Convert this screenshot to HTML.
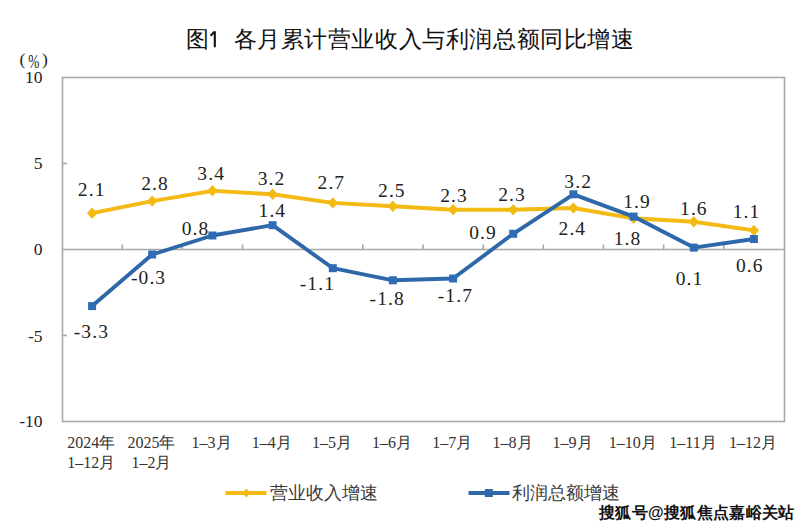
<!DOCTYPE html>
<html><head><meta charset="utf-8"><style>
html,body{margin:0;padding:0;background:#fff;width:811px;height:529px;overflow:hidden}
svg{display:block}
.t{font-family:"Liberation Sans",sans-serif}
.s{font-family:"Liberation Serif",serif}
</style></head><body>
<svg width="811" height="529" viewBox="0 0 811 529">
<rect width="811" height="529" fill="#fff"/>

<text class="t" x="186" y="47" font-size="23" fill="#111">图</text>
<path d="M214.8 31.2V47.2M214.6 31.6L210.6 35.8" stroke="#111" stroke-width="2.1" fill="none"/>
<text class="t" x="233.5" y="47" font-size="23" letter-spacing="0.6" fill="#111">各月累计营业收入与利润总额同比增速</text>
<text class="s" font-size="17.5" fill="#222"><tspan x="19.5" y="65">(</tspan><tspan x="42" y="65">)</tspan></text>
<text class="s" font-size="18" fill="#222" transform="translate(28.3,67.5) scale(0.74,1)">%</text>
<rect x="62.5" y="77.5" width="722" height="344" fill="none" stroke="#A8A8A8" stroke-width="1.6"/>
<line x1="62" y1="249.5" x2="784" y2="249.5" stroke="#A8A8A8" stroke-width="1.6"/>
<line x1="122.2" y1="244.5" x2="122.2" y2="249.5" stroke="#A8A8A8" stroke-width="1.6"/>
<line x1="182.3" y1="244.5" x2="182.3" y2="249.5" stroke="#A8A8A8" stroke-width="1.6"/>
<line x1="242.5" y1="244.5" x2="242.5" y2="249.5" stroke="#A8A8A8" stroke-width="1.6"/>
<line x1="302.7" y1="244.5" x2="302.7" y2="249.5" stroke="#A8A8A8" stroke-width="1.6"/>
<line x1="362.8" y1="244.5" x2="362.8" y2="249.5" stroke="#A8A8A8" stroke-width="1.6"/>
<line x1="423.0" y1="244.5" x2="423.0" y2="249.5" stroke="#A8A8A8" stroke-width="1.6"/>
<line x1="483.2" y1="244.5" x2="483.2" y2="249.5" stroke="#A8A8A8" stroke-width="1.6"/>
<line x1="543.3" y1="244.5" x2="543.3" y2="249.5" stroke="#A8A8A8" stroke-width="1.6"/>
<line x1="603.5" y1="244.5" x2="603.5" y2="249.5" stroke="#A8A8A8" stroke-width="1.6"/>
<line x1="663.7" y1="244.5" x2="663.7" y2="249.5" stroke="#A8A8A8" stroke-width="1.6"/>
<line x1="723.8" y1="244.5" x2="723.8" y2="249.5" stroke="#A8A8A8" stroke-width="1.6"/>
<line x1="62" y1="163.5" x2="67" y2="163.5" stroke="#A8A8A8" stroke-width="1.6"/>
<line x1="62" y1="335.5" x2="67" y2="335.5" stroke="#A8A8A8" stroke-width="1.6"/>
<text class="s" x="42.5" y="83.4" font-size="17.5" fill="#222" text-anchor="end">10</text>
<text class="s" x="42.5" y="169.0" font-size="17.5" fill="#222" text-anchor="end">5</text>
<text class="s" x="42.5" y="255.3" font-size="17.5" fill="#222" text-anchor="end">0</text>
<text class="s" x="42.5" y="341.5" font-size="17.5" fill="#222" text-anchor="end">-5</text>
<text class="s" x="42.5" y="427.3" font-size="17.5" fill="#222" text-anchor="end">-10</text>
<polyline points="92.1,213.2 152.2,201.1 212.4,190.8 272.6,194.3 332.8,202.9 392.9,206.3 453.1,209.7 513.2,209.7 573.4,208.0 633.6,218.3 693.8,221.8 753.9,230.4" fill="none" stroke="#F2BA12" stroke-width="3.9" stroke-linejoin="round"/>
<path d="M92.1 207.5L97.3 213.2L92.1 218.9L86.9 213.2Z" fill="#F2BA12"/>
<path d="M152.2 195.4L157.4 201.1L152.2 206.8L147.1 201.1Z" fill="#F2BA12"/>
<path d="M212.4 185.1L217.6 190.8L212.4 196.5L207.2 190.8Z" fill="#F2BA12"/>
<path d="M272.6 188.6L277.8 194.3L272.6 200.0L267.4 194.3Z" fill="#F2BA12"/>
<path d="M332.8 197.2L337.9 202.9L332.8 208.6L327.6 202.9Z" fill="#F2BA12"/>
<path d="M392.9 200.6L398.1 206.3L392.9 212.0L387.7 206.3Z" fill="#F2BA12"/>
<path d="M453.1 204.0L458.3 209.7L453.1 215.4L447.9 209.7Z" fill="#F2BA12"/>
<path d="M513.2 204.0L518.5 209.7L513.2 215.4L508.1 209.7Z" fill="#F2BA12"/>
<path d="M573.4 202.3L578.6 208.0L573.4 213.7L568.2 208.0Z" fill="#F2BA12"/>
<path d="M633.6 212.6L638.8 218.3L633.6 224.0L628.4 218.3Z" fill="#F2BA12"/>
<path d="M693.8 216.1L699.0 221.8L693.8 227.5L688.5 221.8Z" fill="#F2BA12"/>
<path d="M753.9 224.7L759.1 230.4L753.9 236.1L748.7 230.4Z" fill="#F2BA12"/>
<polyline points="92.1,306.1 152.2,254.5 212.4,235.5 272.6,225.2 332.8,268.2 392.9,280.3 453.1,278.5 513.2,233.8 573.4,194.3 633.6,216.6 693.8,247.6 753.9,239.0" fill="none" stroke="#2E68A8" stroke-width="3.9" stroke-linejoin="round"/>
<rect x="88.1" y="302.1" width="8" height="8" fill="#2F6CB6"/>
<rect x="148.2" y="250.5" width="8" height="8" fill="#2F6CB6"/>
<rect x="208.4" y="231.5" width="8" height="8" fill="#2F6CB6"/>
<rect x="268.6" y="221.2" width="8" height="8" fill="#2F6CB6"/>
<rect x="328.8" y="264.2" width="8" height="8" fill="#2F6CB6"/>
<rect x="388.9" y="276.3" width="8" height="8" fill="#2F6CB6"/>
<rect x="449.1" y="274.5" width="8" height="8" fill="#2F6CB6"/>
<rect x="509.2" y="229.8" width="8" height="8" fill="#2F6CB6"/>
<rect x="569.4" y="190.3" width="8" height="8" fill="#2F6CB6"/>
<rect x="629.6" y="212.6" width="8" height="8" fill="#2F6CB6"/>
<rect x="689.8" y="243.6" width="8" height="8" fill="#2F6CB6"/>
<rect x="749.9" y="235.0" width="8" height="8" fill="#2F6CB6"/>
<text class="s" x="91.7" y="196.0" font-size="19.5" fill="#222" text-anchor="middle" letter-spacing="1.1">2.1</text>
<text class="s" x="155.0" y="189.8" font-size="19.5" fill="#222" text-anchor="middle" letter-spacing="1.1">2.8</text>
<text class="s" x="211.2" y="179.5" font-size="19.5" fill="#222" text-anchor="middle" letter-spacing="1.1">3.4</text>
<text class="s" x="271.5" y="184.5" font-size="19.5" fill="#222" text-anchor="middle" letter-spacing="1.1">3.2</text>
<text class="s" x="331.4" y="188.9" font-size="19.5" fill="#222" text-anchor="middle" letter-spacing="1.1">2.7</text>
<text class="s" x="391.9" y="196.9" font-size="19.5" fill="#222" text-anchor="middle" letter-spacing="1.1">2.5</text>
<text class="s" x="454.0" y="202.1" font-size="19.5" fill="#222" text-anchor="middle" letter-spacing="1.1">2.3</text>
<text class="s" x="512.1" y="201.0" font-size="19.5" fill="#222" text-anchor="middle" letter-spacing="1.1">2.3</text>
<text class="s" x="572.4" y="234.5" font-size="19.5" fill="#222" text-anchor="middle" letter-spacing="1.1">2.4</text>
<text class="s" x="627.5" y="245.3" font-size="19.5" fill="#222" text-anchor="middle" letter-spacing="1.1">1.8</text>
<text class="s" x="693.9" y="214.5" font-size="19.5" fill="#222" text-anchor="middle" letter-spacing="1.1">1.6</text>
<text class="s" x="746.6" y="217.5" font-size="19.5" fill="#222" text-anchor="middle" letter-spacing="1.1">1.1</text>
<text class="s" x="91.4" y="337.6" font-size="19.5" fill="#222" text-anchor="middle" letter-spacing="1.1">-3.3</text>
<text class="s" x="148.6" y="284.2" font-size="19.5" fill="#222" text-anchor="middle" letter-spacing="1.1">-0.3</text>
<text class="s" x="195.5" y="235.4" font-size="19.5" fill="#222" text-anchor="middle" letter-spacing="1.1">0.8</text>
<text class="s" x="272.4" y="216.9" font-size="19.5" fill="#222" text-anchor="middle" letter-spacing="1.1">1.4</text>
<text class="s" x="317.4" y="290.0" font-size="19.5" fill="#222" text-anchor="middle" letter-spacing="1.1">-1.1</text>
<text class="s" x="387.2" y="304.8" font-size="19.5" fill="#222" text-anchor="middle" letter-spacing="1.1">-1.8</text>
<text class="s" x="455.4" y="302.3" font-size="19.5" fill="#222" text-anchor="middle" letter-spacing="1.1">-1.7</text>
<text class="s" x="483.1" y="239.1" font-size="19.5" fill="#222" text-anchor="middle" letter-spacing="1.1">0.9</text>
<text class="s" x="578.2" y="187.6" font-size="19.5" fill="#222" text-anchor="middle" letter-spacing="1.1">3.2</text>
<text class="s" x="637.1" y="208.3" font-size="19.5" fill="#222" text-anchor="middle" letter-spacing="1.1">1.9</text>
<text class="s" x="689.5" y="285.3" font-size="19.5" fill="#222" text-anchor="middle" letter-spacing="1.1">0.1</text>
<text class="s" x="749.8" y="272.1" font-size="19.5" fill="#222" text-anchor="middle" letter-spacing="1.1">0.6</text>
<text class="s" x="91.3" y="447.5" font-size="16" fill="#333" text-anchor="middle">2024年</text>
<text class="s" x="91.3" y="467.5" font-size="16" fill="#333" text-anchor="middle">1–12月</text>
<text class="s" x="151.4" y="447.5" font-size="16" fill="#333" text-anchor="middle">2025年</text>
<text class="s" x="151.4" y="467.5" font-size="16" fill="#333" text-anchor="middle">1–2月</text>
<text class="s" x="211.6" y="447.5" font-size="16" fill="#333" text-anchor="middle">1–3月</text>
<text class="s" x="271.8" y="447.5" font-size="16" fill="#333" text-anchor="middle">1–4月</text>
<text class="s" x="331.9" y="447.5" font-size="16" fill="#333" text-anchor="middle">1–5月</text>
<text class="s" x="392.1" y="447.5" font-size="16" fill="#333" text-anchor="middle">1–6月</text>
<text class="s" x="452.3" y="447.5" font-size="16" fill="#333" text-anchor="middle">1–7月</text>
<text class="s" x="512.5" y="447.5" font-size="16" fill="#333" text-anchor="middle">1–8月</text>
<text class="s" x="572.6" y="447.5" font-size="16" fill="#333" text-anchor="middle">1–9月</text>
<text class="s" x="632.8" y="447.5" font-size="16" fill="#333" text-anchor="middle">1–10月</text>
<text class="s" x="693.0" y="447.5" font-size="16" fill="#333" text-anchor="middle">1–11月</text>
<text class="s" x="753.1" y="447.5" font-size="16" fill="#333" text-anchor="middle">1–12月</text>
<line x1="225.5" y1="493" x2="266.5" y2="493" stroke="#F2BA12" stroke-width="4"/>
<path d="M246.3 488.5L250.3 493L246.3 497.5L242.3 493Z" fill="#F2BA12"/>
<text class="s" x="270" y="499" font-size="18" fill="#3a3a3a">营业收入增速</text>
<line x1="468.5" y1="493" x2="509.5" y2="493" stroke="#2E68A8" stroke-width="4"/>
<rect x="484.8" y="489" width="8" height="8" fill="#2E68A8"/>
<text class="s" x="511.5" y="499" font-size="18" fill="#3a3a3a">利润总额增速</text>
<text class="t" x="599" y="517.5" font-size="16" letter-spacing="0.35" font-weight="bold" fill="#111" stroke="#fff" stroke-width="0.6" paint-order="stroke">搜狐号@搜狐焦点嘉峪关站</text>
</svg></body></html>
